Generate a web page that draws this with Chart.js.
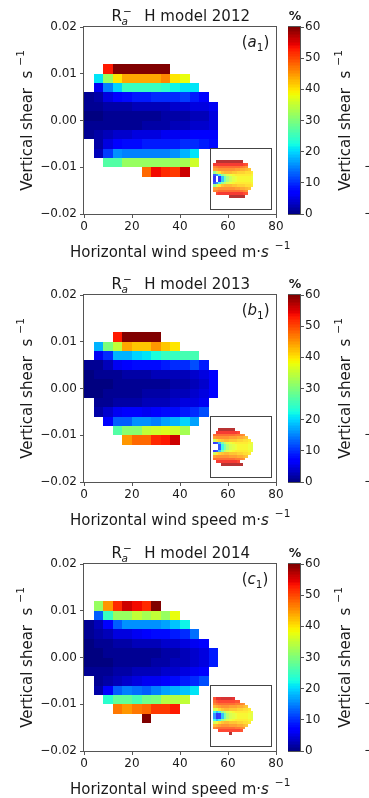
<!DOCTYPE html>
<html>
<head>
<meta charset="utf-8">
<title>Ra- H model 2012-2014</title>
<script src="https://cdn.jsdelivr.net/npm/chart.js@4.4.1/dist/chart.umd.min.js"></script>
<style>
  html, body { margin: 0; padding: 0; background: #fff; overflow: hidden; width: 369px; height: 798px; }
  canvas { position: absolute; }
</style>
</head>
<body>
<script>
// Bin layout of the shear / wind speed histogram
const windBin = 4;          // m/s per column
const shearBin = 0.002;     // s^-1 per row
const shearRows = [0.010, 0.008, 0.006, 0.004, 0.002, 0.000, -0.002, -0.004, -0.006, -0.008, -0.010, -0.012, -0.014];

const xTicks = [0, 20, 40, 60, 80];
const yTicks = [-0.02, -0.01, 0, 0.01, 0.02];
const cbTicks = [0, 10, 20, 30, 40, 50, 60];

// 2012: first occupied column of each row + percentages
const firstCol2012 = [2, 1, 1, 0, 0, 0, 0, 0, 1, 1, 2, 6];
const pct2012 = [
  [53, 60, 60, 60, 60, 60, 60],
  [21, 32, 40, 44, 44, 44, 44, 46, 40, 38],
  [6, 15, 20, 25, 25, 25, 25, 24, 22, 21, 21],
  [1, 2, 5, 7, 8, 9, 9, 10, 10, 10, 11, 9, 7],
  [1, 1, 2, 2, 2, 3, 3, 3, 3, 4, 4, 5, 5, 6],
  [0, 0, 1, 1, 1, 1, 1, 1, 2, 2, 2, 3, 3, 5],
  [1, 1, 1, 1, 1, 1, 2, 2, 2, 3, 3, 4, 4, 5],
  [1, 2, 3, 4, 4, 5, 5, 5, 6, 6, 6, 7, 7, 7],
  [2, 5, 7, 8, 8, 9, 9, 9, 9, 10, 10, 9, 8],
  [3, 11, 16, 15, 15, 15, 15, 15, 16, 18, 21],
  [27, 27, 32, 32, 32, 32, 32, 32, 33, 36],
  [48, 54, 52, 51, 56]
];

// 2013
const firstCol2013 = [3, 1, 1, 0, 0, 0, 0, 1, 1, 2, 3, 4];
const pct2013 = [
  [53, 60, 60, 60, 60],
  [18, 30, 35, 44, 42, 42, 45, 42, 40],
  [6, 10, 18, 18, 20, 21, 23, 25, 25, 26, 26],
  [1, 1, 3, 6, 7, 8, 8, 8, 9, 10, 10, 12, 9],
  [0, 1, 1, 1, 2, 2, 2, 3, 3, 3, 3, 4, 5, 7],
  [0, 0, 0, 1, 1, 1, 1, 1, 1, 2, 2, 3, 4, 7],
  [0, 0, 1, 1, 1, 1, 2, 2, 2, 3, 3, 4, 5, 7],
  [1, 1, 2, 2, 2, 3, 3, 3, 4, 5, 5, 6],
  [2, 4, 6, 7, 7, 6, 7, 8, 8, 9, 10, 12],
  [7, 13, 13, 16, 16, 15, 17, 18, 20, 17],
  [27, 31, 31, 35, 36, 37, 36, 33],
  [45, 48, 48, 52, 53, 56]
];

// 2014
const firstCol2014 = [1, 1, 0, 0, 0, 0, 0, 0, 1, 1, 2, 3, 6];
const pct2014 = [
  [32, 45, 52, 56, 54, 52, 60],
  [13, 25, 32, 32, 35, 33, 35, 32, 38],
  [1, 3, 7, 13, 16, 16, 16, 16, 17, 19, 22],
  [1, 2, 3, 5, 5, 6, 7, 8, 8, 9, 10, 14],
  [0, 1, 1, 2, 2, 3, 3, 3, 4, 4, 5, 6, 7],
  [0, 0, 1, 1, 1, 1, 1, 1, 2, 2, 3, 4, 5, 9],
  [0, 0, 0, 1, 1, 1, 1, 2, 2, 3, 3, 4, 5, 9],
  [1, 1, 1, 2, 2, 3, 3, 3, 4, 4, 5, 6, 7],
  [1, 2, 3, 4, 5, 6, 6, 7, 8, 9, 10, 12],
  [2, 7, 13, 15, 14, 13, 15, 17, 18, 19, 21],
  [24, 28, 28, 26, 29, 30, 34, 34, 35],
  [47, 45, 47, 48, 51, 51, 53],
  [60]
];

// small inset maps (rows top to bottom, null = empty)
const N = null;
const inset2012 = [
  [N, 58, 58, 58, 58, 58, 58, 58, 58, 58, 58, N, N, N, N],
  [54, 54, 54, 54, 54, 54, 54, 54, 54, 54, 54, 53, 52, N, N],
  [48, 49, 50, 50, 50, 50, 50, 50, 50, 50, 49, 48, 47, N, N],
  [46, 46, 47, 47, 47, 47, 47, 47, 46, 46, 45, 45, 44, 43, N],
  [30, 36, 40, 43, 44, 44, 44, 43, 43, 42, 42, 42, 41, 41, 40],
  [10, 14, 22, 30, 34, 37, 38, 39, 40, 40, 40, 40, 40, 40, 39],
  [6, N, 6, 18, 27, 32, 35, 37, 38, 39, 39, 39, 39, 39, 38],
  [6, N, 6, 18, 27, 32, 35, 37, 38, 39, 39, 39, 39, 39, 38],
  [10, 14, 22, 30, 34, 37, 38, 39, 40, 40, 40, 40, 40, 40, 39],
  [30, 36, 40, 43, 44, 44, 44, 43, 43, 42, 42, 42, 41, 41, 40],
  [46, 46, 47, 47, 47, 47, 47, 47, 46, 46, 45, 45, 44, 43, N],
  [48, 49, 50, 50, 50, 50, 50, 50, 50, 50, 49, 48, 47, N, N],
  [N, 53, 54, 54, 54, 54, 54, 54, 54, 54, 54, 53, 52, N, N],
  [N, N, N, N, N, N, 58, 58, 58, 58, 58, 58, N, N, N]
];
const inset2013 = [
  [N, N, 58, 58, 58, 58, 58, 58, N, N, N, N, N, N, N],
  [N, 54, 54, 54, 54, 54, 54, 54, 54, 53, N, N, N, N, N],
  [50, 50, 50, 50, 50, 50, 50, 50, 49, 49, 48, 47, N, N, N],
  [46, 47, 47, 47, 47, 47, 46, 46, 46, 45, 45, 44, 43, N, N],
  [35, 40, 42, 43, 44, 44, 43, 43, 43, 42, 42, 41, 41, 40, N],
  [8, 10, 18, 28, 34, 37, 38, 39, 40, 40, 40, 40, 40, 39, 38],
  [N, N, 10, 22, 28, 33, 36, 37, 38, 39, 39, 39, 39, 38, 37],
  [N, N, 10, 22, 28, 33, 36, 37, 38, 39, 39, 39, 39, 38, 37],
  [8, 10, 18, 28, 34, 37, 38, 39, 40, 40, 40, 40, 40, 39, 38],
  [35, 40, 42, 43, 44, 44, 43, 43, 43, 42, 42, 41, 41, 40, N],
  [46, 47, 47, 47, 47, 47, 46, 46, 46, 45, 45, 44, 43, N, N],
  [50, 50, 50, 50, 50, 50, 50, 50, 49, 49, 48, 47, N, N, N],
  [N, 54, 54, 54, 54, 54, 54, 54, 54, 53, N, N, N, N, N],
  [N, N, N, 58, 58, 58, 58, 58, 58, 58, 58, N, N, N, N]
];
const inset2014 = [
  [52, 55, 55, 56, 56, 56, 56, 55, N, N, N, N, N, N, N],
  [50, 52, 53, 53, 53, 53, 53, 53, 52, 52, N, N, N, N, N],
  [48, 49, 50, 50, 50, 50, 50, 50, 49, 49, 48, 47, N, N, N],
  [44, 45, 46, 47, 47, 47, 46, 46, 46, 45, 45, 44, 43, N, N],
  [36, 38, 41, 43, 44, 44, 43, 43, 43, 42, 42, 41, 41, 40, N],
  [22, 18, 22, 30, 34, 37, 38, 39, 40, 40, 40, 40, 40, 39, 38],
  [15, 6, 8, 18, 27, 33, 36, 37, 38, 39, 39, 39, 39, 38, 37],
  [15, 6, 8, 18, 27, 33, 36, 37, 38, 39, 39, 39, 39, 38, 37],
  [22, 18, 22, 30, 34, 37, 38, 39, 40, 40, 40, 40, 40, 39, 38],
  [36, 38, 41, 43, 44, 44, 43, 43, 43, 42, 42, 41, 41, 40, N],
  [44, 45, 46, 47, 47, 47, 46, 46, 46, 45, 45, 44, 43, N, N],
  [48, 49, 50, 50, 50, 50, 50, 50, 49, 49, 48, 47, N, N, N],
  [N, N, 53, 53, 53, 53, 53, 53, 53, 53, 52, N, N, N, N],
  [N, N, N, N, N, N, 58, N, N, N, N, N, N, N, N]
];

const panels = [
  { year: '2012', tag: 'a', top: 0,   firstCols: firstCol2012, pct: pct2012, inset: inset2012 },
  { year: '2013', tag: 'b', top: 268, firstCols: firstCol2013, pct: pct2013, inset: inset2013 },
  { year: '2014', tag: 'c', top: 537, firstCols: firstCol2014, pct: pct2014, inset: inset2014 }
];

const FONT = '"DejaVu Sans", "Liberation Sans", sans-serif';
const INK = '#1a1a1a';
const SPINE = '#555';
const TICK_SIZE = 12;
Chart.defaults.font.family = FONT;
Chart.defaults.color = INK;

function font(size, style, weight) {
  return [style || '', weight || '', size + 'px', FONT].join(' ').trim();
}

// matplotlib "jet"
const jetR = [[0, 0], [0.35, 0], [0.66, 1], [0.89, 1], [1, 0.5]];
const jetG = [[0, 0], [0.125, 0], [0.375, 1], [0.64, 1], [0.91, 0], [1, 0]];
const jetB = [[0, 0.5], [0.11, 1], [0.34, 1], [0.65, 0], [1, 0]];

function segment(seg, t) {
  for (let i = 1; i < seg.length; i++) {
    if (t <= seg[i][0]) {
      const [t0, v0] = seg[i - 1], [t1, v1] = seg[i];
      return v0 + (v1 - v0) * (t - t0) / (t1 - t0);
    }
  }
  return seg[seg.length - 1][1];
}

function jetColor(v, alpha) {
  const t = Math.min(1, Math.max(0, v / 60));
  const a = alpha === undefined ? 1 : alpha;
  const ch = seg => Math.round(255 * (segment(seg, t) * a + (1 - a)));
  return `rgb(${ch(jetR)},${ch(jetG)},${ch(jetB)})`;
}

function gridCells(firstCols, values) {
  const cells = [];
  values.forEach((row, i) => {
    row.forEach((v, j) => {
      const col = firstCols[i] + j;
      cells.push({ x0: col * windBin, x1: (col + 1) * windBin, y0: shearRows[i], y1: shearRows[i] + shearBin, v });
    });
  });
  return cells;
}

function insetCells(grid) {
  const cells = [];
  grid.forEach((row, r) => {
    row.forEach((v, c) => {
      if (v === null) return;
      cells.push({ x0: c, x1: c + 1, y0: 13 - r, y1: 14 - r, v });
    });
  });
  return cells;
}

// draws the cells through the chart's own scales
function heatLayer(cells, alpha) {
  return {
    id: 'heatLayer',
    beforeDatasetsDraw(chart) {
      const { ctx, chartArea, scales } = chart;
      ctx.save();
      ctx.beginPath();
      ctx.rect(chartArea.left, chartArea.top, chartArea.width, chartArea.height);
      ctx.clip();
      cells.forEach(c => {
        const l = Math.round(scales.x.getPixelForValue(c.x0));
        const r = Math.round(scales.x.getPixelForValue(c.x1));
        const t = Math.round(scales.y.getPixelForValue(c.y1));
        const b = Math.round(scales.y.getPixelForValue(c.y0));
        ctx.fillStyle = jetColor(c.v, alpha);
        ctx.fillRect(l, t, r - l, b - t);
      });
      ctx.restore();
    }
  };
}

const frame = {
  id: 'frame',
  afterDraw(chart) {
    const { ctx, chartArea: a } = chart;
    ctx.save();
    ctx.strokeStyle = SPINE;
    ctx.lineWidth = 1;
    ctx.strokeRect(a.left - 0.5, a.top - 0.5, a.width + 1, a.height + 1);
    ctx.restore();
  }
};

function drawRuns(ctx, x, y, runs) {
  runs.forEach(p => {
    ctx.font = p.f;
    ctx.fillText(p.t, x, y + (p.dy || 0));
    x += ctx.measureText(p.t).width + (p.gap || 0);
  });
  return x;
}

function shearLabel(ctx, xBase, yMid) {
  const runs = [
    { t: 'Vertical shear  s', f: font(15), gap: 5 },
    { t: '\u22121', f: font(10.5), dy: -8 }
  ];
  let total = 0;
  runs.forEach(p => { ctx.font = p.f; total += ctx.measureText(p.t).width + (p.gap || 0); });
  ctx.save();
  ctx.translate(xBase, yMid);
  ctx.rotate(-Math.PI / 2);
  drawRuns(ctx, -total / 2, 0, runs);
  ctx.restore();
}

function panelText(panel) {
  return {
    id: 'panelText',
    afterDraw(chart) {
      const { ctx, chartArea: a, scales } = chart;
      ctx.save();
      ctx.fillStyle = INK;
      ctx.textAlign = 'left';
      ctx.textBaseline = 'alphabetic';

      // title R_a^-  H model yyyy
      const base = 20.5, x0 = 111.5;
      ctx.font = font(15);
      ctx.fillText('R', x0, base);
      const rw = ctx.measureText('R').width;
      ctx.font = font(10.5, 'italic');
      ctx.fillText('a', x0 + rw - 0.5, base + 4);
      ctx.font = font(10.5);
      ctx.fillText('\u2212', x0 + rw + 1, base - 6);
      ctx.font = font(15);
      ctx.fillText('H model ' + panel.year, 144.3, base);

      // panel tag (x1)
      drawRuns(ctx, 241.7, a.top + 20.3, [
        { t: '(', f: font(15) },
        { t: panel.tag, f: font(15, 'italic') },
        { t: '1', f: font(10.5), dy: 3.5 },
        { t: ')', f: font(15) }
      ]);

      // x axis title
      drawRuns(ctx, 70, a.bottom + 42.5, [
        { t: 'Horizontal wind speed m\u00b7', f: font(15) },
        { t: 's', f: font(15, 'italic'), gap: 6 },
        { t: '\u22121', f: font(10.5), dy: -8 }
      ]);

      // y axis title, and the one of the next column cut by the page edge
      shearLabel(ctx, 31.5, (a.top + a.bottom) / 2);
      shearLabel(ctx, 350, (a.top + a.bottom) / 2);
      ctx.font = font(TICK_SIZE);
      ctx.textBaseline = 'middle';
      ctx.fillText('\u22120.01', 364, scales.y.getPixelForValue(-0.01));
      ctx.fillText('\u22120.02', 364, scales.y.getPixelForValue(-0.02));

      // colorbar unit
      ctx.textAlign = 'center';
      ctx.textBaseline = 'alphabetic';
      ctx.font = font(12.5, '', 'bold');
      ctx.fillText('%', 295, 20);
      ctx.restore();
    }
  };
}

function addCanvas(left, top, w, h) {
  const c = document.createElement('canvas');
  c.width = w;
  c.height = h;
  c.style.left = left + 'px';
  c.style.top = top + 'px';
  c.style.width = w + 'px';
  c.style.height = h + 'px';
  document.body.appendChild(c);
  return c;
}

function shearTick(v) {
  return (Math.abs(v) < 1e-9 ? 0 : v).toFixed(2).replace('-', '\u2212');
}

const tickGrid = { display: true, drawOnChartArea: false, drawTicks: true, tickLength: 4, color: SPINE, tickColor: SPINE };

function buildPanel(panel) {
  const main = addCanvas(0, panel.top, 369, 266);
  new Chart(main, {
    type: 'scatter',
    data: { datasets: [{ data: [] }] },
    options: {
      responsive: false,
      animation: false,
      events: [],
      layout: { padding: { top: 27, right: 93, left: 0, bottom: 0 } },
      plugins: { legend: { display: false }, tooltip: { enabled: false } },
      scales: {
        x: {
          type: 'linear', min: 0, max: 80,
          afterBuildTicks: s => { s.ticks = xTicks.map(v => ({ value: v })); },
          afterFit: s => { s.height = 52; },
          grid: tickGrid,
          border: { display: false },
          ticks: { font: { size: TICK_SIZE }, color: INK, padding: 2, maxRotation: 0, autoSkip: false }
        },
        y: {
          type: 'linear', min: -0.02, max: 0.02,
          afterBuildTicks: s => { s.ticks = yTicks.map(v => ({ value: v })); },
          afterFit: s => { s.width = 84; },
          grid: tickGrid,
          border: { display: false },
          ticks: { font: { size: TICK_SIZE }, color: INK, padding: 3, autoSkip: false, callback: shearTick }
        }
      }
    },
    plugins: [heatLayer(gridCells(panel.firstCols, panel.pct), 1), frame, panelText(panel)]
  });

  // colour bar
  const bar = addCanvas(288, panel.top, 50, 266);
  new Chart(bar, {
    type: 'scatter',
    data: { datasets: [{ data: [] }] },
    options: {
      responsive: false,
      animation: false,
      events: [],
      layout: { padding: { top: 27, bottom: 52, left: 0, right: 0 } },
      plugins: { legend: { display: false }, tooltip: { enabled: false } },
      scales: {
        x: { display: false, min: 0, max: 1 },
        y: {
          position: 'right', min: 0, max: 60,
          afterBuildTicks: s => { s.ticks = cbTicks.map(v => ({ value: v })); },
          afterFit: s => { s.width = 38; },
          grid: tickGrid,
          border: { display: false },
          ticks: { font: { size: TICK_SIZE }, color: INK, padding: 1, autoSkip: false }
        }
      }
    },
    plugins: [{
      id: 'jetStrip',
      beforeDatasetsDraw(chart) {
        const { ctx, chartArea: a, scales } = chart;
        const steps = 120;
        for (let i = 0; i < steps; i++) {
          const v0 = 60 * i / steps, v1 = 60 * (i + 1) / steps;
          const yb = scales.y.getPixelForValue(v0), yt = scales.y.getPixelForValue(v1);
          ctx.fillStyle = jetColor((v0 + v1) / 2);
          ctx.fillRect(a.left, Math.floor(yt), a.width, Math.ceil(yb) - Math.floor(yt));
        }
      }
    }, frame]
  });

  // inset map in the lower right corner
  const inset = addCanvas(210, panel.top + 148, 62, 62);
  new Chart(inset, {
    type: 'scatter',
    data: { datasets: [{ data: [] }] },
    options: {
      responsive: false,
      animation: false,
      events: [],
      layout: { padding: 0 },
      plugins: { legend: { display: false }, tooltip: { enabled: false } },
      scales: {
        x: { display: false, min: -1.1, max: 21.9 },
        y: { display: false, min: -4.5, max: 18.5 }
      }
    },
    plugins: [{
      id: 'insetBox',
      beforeDraw(chart) {
        const ctx = chart.ctx;
        ctx.fillStyle = '#fff';
        ctx.fillRect(0, 0, chart.width, chart.height);
      },
      afterDraw(chart) {
        const ctx = chart.ctx;
        ctx.strokeStyle = '#444';
        ctx.lineWidth = 1;
        ctx.strokeRect(0.5, 0.5, chart.width - 1, chart.height - 1);
      }
    }, heatLayer(insetCells(panel.inset), 0.8)]
  });
}

panels.forEach(buildPanel);
</script>
</body>
</html>
